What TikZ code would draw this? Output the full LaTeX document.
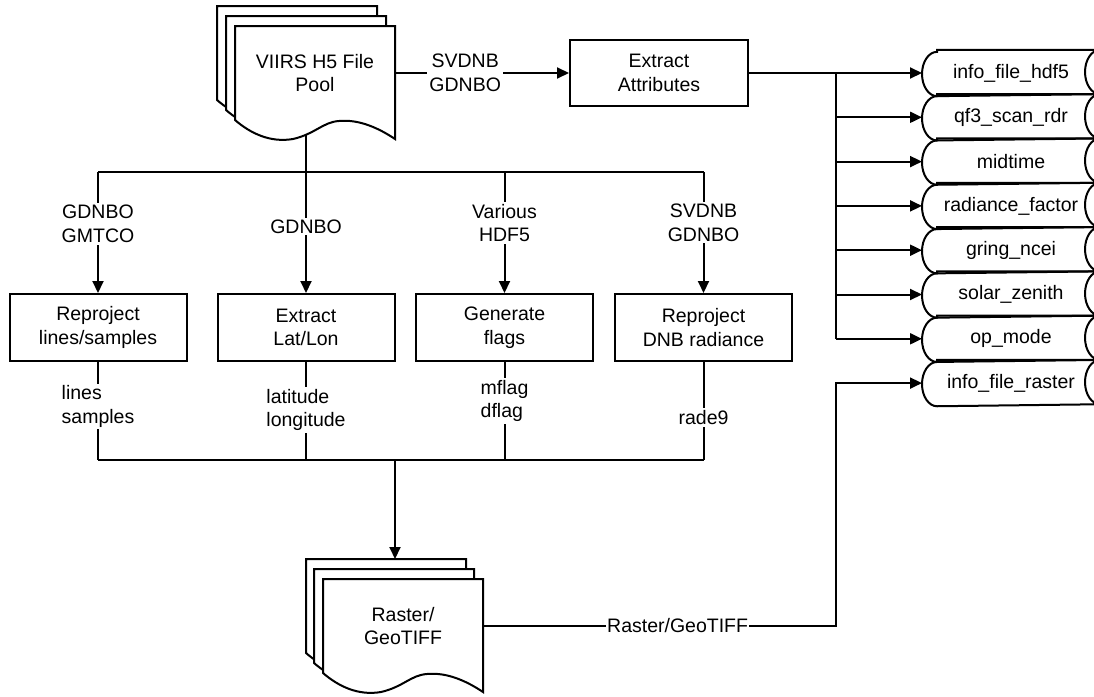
\documentclass[tikz,border=0pt]{standalone}
\usepackage{fontspec}
\setmainfont{Liberation Sans}
\usetikzlibrary{arrows.meta,positioning}
\newcommand{\docsheet}[2]{%
  \filldraw[fill=white,shift={(#1,#2)}] (0,0) -- (160,0) -- (160,113)
    .. controls (145,103) and (125,93) .. (104,95)
    .. controls (88,96) and (80,108) .. (58,113)
    .. controls (35,117) and (15,107) .. (0,94) -- cycle;}

\begin{document}
\begin{tikzpicture}[x=1pt,y=-1pt,line width=2pt,>={Triangle[length=12pt,width=11pt]},
    font=\fontsize{19.5}{23.5}\selectfont,
    box/.style={draw,minimum width=177pt,minimum height=67pt,align=center,inner sep=2pt},
    lbl/.style={fill=white,align=center,inner sep=2pt},
    sheet/.style={minimum width=160pt,minimum height=40pt,align=center,inner sep=0pt},
    store/.style={minimum width=176pt,minimum height=44.3pt,inner sep=0pt}]
  \useasboundingbox (0,0) rectangle (1094,696);
  % file stacks
  \docsheet{217}{6}
  \docsheet{226}{16}
  \docsheet{235}{26}
  \docsheet{306}{559}
  \docsheet{314}{569}
  \docsheet{323}{579}
  \node[sheet] (pool) at (315,73) {VIIRS H5 File\\Pool};
  \node[sheet] (raster) at (403,626) {Raster/\\GeoTIFF};
  \coordinate (poolbot) at (306,134);
  \coordinate (rtop) at (395,559);
  \coordinate (jtop) at (306,172);
  \coordinate (jbot) at (395,460);
  \coordinate (trunk) at (836,73);

  \node[box,minimum width=178pt,minimum height=66pt] (attr) at (659,73) {Extract\\Attributes};
  \node[box] (r1) at (98,327.5) {Reproject\\lines/samples};
  \node[box] (r2) [on grid,right=208pt of r1] {Extract\\Lat/Lon};
  \node[box] (r3) [on grid,right=198.5pt of r2] {Generate\\flags};
  \node[box] (r4) [on grid,right=199pt of r3] {Reproject\\DNB radiance};

  \foreach \t [count=\i] in {info\_file\_hdf5,qf3\_scan\_rdr,midtime,radiance\_factor,
      gring\_ncei,solar\_zenith,op\_mode,info\_file\_raster}
    \node[store] (s\i) at (1011,{73+44.3*(\i-1)}) {\t};
  \foreach \i in {1,...,8}
    \draw ([xshift=15pt]s\i.north west) -- (s\i.north east)
      arc[start angle=270,end angle=90,x radius=15,y radius=22.15]
      -- ([xshift=15pt]s\i.south west)
      arc[start angle=90,end angle=270,x radius=15,y radius=22.15] -- cycle;

  \draw[->] (pool) -- node[lbl,pos=0.4]{SVDNB\\GDNBO} (attr);
  \draw[->] (attr) -- (s1);
  \draw (trunk) -- (trunk |- s7);
  \foreach \i in {2,...,7}
    \draw[->] (trunk |- s\i) -- (s\i);

  \draw (poolbot) -- (jtop);
  \draw (r1.north |- jtop) -- (r4.north |- jtop);
  \draw[->] (r1.north |- jtop) -- node[lbl,pos=0.43]{GDNBO\\GMTCO} (r1);
  \draw[->] (r2.north |- jtop) -- node[lbl,pos=0.45]{GDNBO} (r2);
  \draw[->] (r3.north |- jtop) -- node[lbl,pos=0.42]{Various\\HDF5} (r3);
  \draw[->] (r4.north |- jtop) -- node[lbl,pos=0.42]{SVDNB\\GDNBO} (r4);

  \draw (r1) -- node[lbl,align=left,pos=0.455]{lines\\samples} (r1 |- jbot);
  \draw (r2) -- node[lbl,align=left,pos=0.49]{latitude\\longitude} (r2 |- jbot);
  \draw (r3) -- node[lbl,align=left,pos=0.40]{mflag\\dflag} (r3 |- jbot);
  \draw (r4) -- node[lbl,pos=0.566]{rade9} (r4 |- jbot);
  \draw (r1.south |- jbot) -- (r4.south |- jbot);
  \draw[->] (jbot) -- (rtop);

  \draw[->] (raster) -- node[lbl,inner sep=1pt,pos=0.55]{Raster/GeoTIFF} (raster -| trunk) |- (s8);
\end{tikzpicture}
\end{document}
